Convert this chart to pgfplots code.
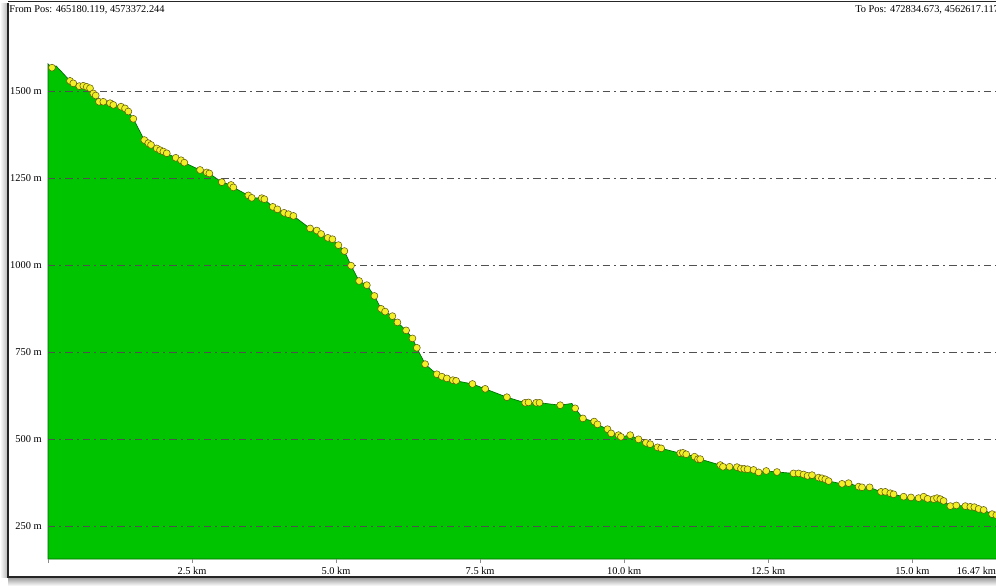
\documentclass[border=0pt]{standalone}
\usepackage{fontspec}
\setmainfont{Liberation Serif}
\usepackage{pgfplots}
\usepackage{pgfplotstable}
\pgfplotsset{compat=1.18}
\definecolor{areagreen}{RGB}{0,196,0}
\definecolor{edgegreen}{RGB}{0,110,0}
\definecolor{dotyellow}{RGB}{242,238,40}
\definecolor{dotedge}{RGB}{95,90,10}
\definecolor{gridgray}{RGB}{80,80,80}

\pgfplotstableread{
km m
0 1578
0.069 1567
0.139 1572
0.226 1557
0.382 1529
0.439 1522
0.543 1514
0.613 1515
0.672 1512
0.729 1508
0.786 1493
0.828 1487
0.885 1469
0.960 1469
1.076 1465
1.134 1460
1.267 1455
1.337 1450
1.394 1441
1.481 1420
1.672 1359
1.741 1350
1.788 1345
1.887 1335
1.944 1330
2.002 1326
2.061 1321
2.217 1308
2.309 1301
2.366 1294
2.639 1273
2.755 1266
2.800 1263
3.016 1238
3.177 1230
3.217 1223
3.477 1200
3.536 1193
3.710 1192
3.755 1189
3.901 1167
3.981 1160
4.097 1150
4.172 1146
4.259 1141
4.549 1105
4.665 1099
4.740 1089
4.856 1078
4.936 1074
5.040 1057
5.144 1040
5.260 998
5.399 954
5.533 942
5.665 911
5.781 874
5.851 866
5.977 853
6.064 835
6.215 812
6.325 789
6.401 762
6.545 715
6.748 686
6.835 679
6.922 674
7.026 669
7.083 667
7.366 658
7.587 644
7.964 620
8.281 604
8.339 605
8.472 604
8.530 604
8.889 597
9.092 602
9.149 588
9.283 559
9.479 550
9.536 542
9.710 528
9.774 516
9.901 511
9.943 506
10.104 511
10.248 499
10.377 489
10.451 485
10.578 476
10.642 473
10.972 459
11.019 460
11.076 456
11.220 449
11.280 442
11.319 442
11.667 425
11.714 420
11.828 420
11.957 419
12.026 415
12.083 414
12.141 413
12.245 411
12.332 404
12.465 408
12.651 405
12.939 401
13.026 401
13.113 398
13.182 394
13.259 396
13.373 389
13.432 387
13.490 384
13.547 379
13.780 371
13.894 373
14.068 363
14.127 361
14.259 361
14.457 348
14.531 348
14.618 344
14.675 341
14.849 334
14.977 332
15.109 330
15.196 334
15.266 328
15.370 327
15.429 330
15.486 327
15.543 322
15.660 307
15.764 309
15.920 307
16.007 305
16.076 304
16.151 299
16.238 296
16.384 284
16.458 281
16.47 280
}\profile

\pgfplotstableread{
km m
0.069 1567
0.382 1529
0.439 1522
0.543 1514
0.613 1515
0.672 1512
0.729 1508
0.786 1493
0.828 1487
0.885 1469
0.960 1469
1.076 1465
1.134 1460
1.267 1455
1.337 1450
1.394 1441
1.481 1420
1.672 1359
1.741 1350
1.788 1345
1.887 1335
1.944 1330
2.002 1326
2.061 1321
2.217 1308
2.309 1301
2.366 1294
2.639 1273
2.755 1266
2.800 1263
3.016 1238
3.177 1230
3.217 1223
3.477 1200
3.536 1193
3.710 1192
3.755 1189
3.901 1167
3.981 1160
4.097 1150
4.172 1146
4.259 1141
4.549 1105
4.665 1099
4.740 1089
4.856 1078
4.936 1074
5.040 1057
5.144 1040
5.260 998
5.399 954
5.533 942
5.665 911
5.781 874
5.851 866
5.977 853
6.064 835
6.215 812
6.325 789
6.401 762
6.545 715
6.748 686
6.835 679
6.922 674
7.026 669
7.083 667
7.366 658
7.587 644
7.964 620
8.281 604
8.339 605
8.472 604
8.530 604
8.889 597
9.149 588
9.283 559
9.479 550
9.536 542
9.710 528
9.774 516
9.901 511
9.943 506
10.104 511
10.248 499
10.377 489
10.451 485
10.578 476
10.642 473
10.972 459
11.019 460
11.076 456
11.220 449
11.280 442
11.319 442
11.667 425
11.714 420
11.828 420
11.957 419
12.026 415
12.083 414
12.141 413
12.245 411
12.332 404
12.465 408
12.651 405
12.939 401
13.026 401
13.113 398
13.182 394
13.259 396
13.373 389
13.432 387
13.490 384
13.547 379
13.780 371
13.894 373
14.068 363
14.127 361
14.259 361
14.457 348
14.531 348
14.618 344
14.675 341
14.849 334
14.977 332
15.109 330
15.196 334
15.266 328
15.370 327
15.429 330
15.486 327
15.543 322
15.660 307
15.764 309
15.920 307
16.007 305
16.076 304
16.151 299
16.238 296
16.384 284
16.458 281
}\dots

\begin{document}
\begin{tikzpicture}[font=\fontsize{7.8}{9}\selectfont]
\path[use as bounding box] (0,0) rectangle (747pt,439.5pt);
% drop shadow
\shade[top color=black!40, bottom color=white] (6pt,6.5pt) rectangle (747pt,0pt);
\shade[left color=white, right color=black!30] (0pt,6.5pt) rectangle (6pt,437pt);
\fill[white] (6pt,6.75pt) rectangle (750pt,437pt);
\begin{axis}[
  at={(36pt,20.25pt)}, anchor=south west,
  scale only axis, width=711.75pt, height=404.25pt,
  xmin=0, xmax=16.47, ymin=155, ymax=1704,
  axis line style={draw=none},
  axis on top,
  clip=false,
  xtick pos=lower, ytick pos=left,
  xtick={0,2.5,5,7.5,10,12.5,15},
  xticklabels={,2.5 km,5.0 km,7.5 km,10.0 km,12.5 km,15.0 km},
  extra x ticks={16.47},
  extra x tick labels={16.47 km},
  extra x tick style={xticklabel style={anchor=north east, xshift=-0.5pt}, grid=none},
  ytick={250,500,750,1000,1250,1500},
  yticklabels={250 m,500 m,750 m,1000 m,1250 m,1500 m},
  ymajorgrids,
  major grid style={gridgray, line width=0.6pt, dash pattern=on 5.5pt off 3pt on 1.5pt off 3pt},
  tick align=outside,
  major tick length=3pt,
  x tick style={black!45, line width=0.6pt},
  y tick style={draw=none},
  xticklabel style={inner sep=0pt, yshift=-3pt},
  yticklabel style={inner sep=0pt, xshift=-1.5pt},
  tick label style={font=\fontsize{7.8}{9}\selectfont},
]
\addplot[fill=areagreen, draw=edgegreen, line width=0.5pt] table[x=km, y=m] {\profile} \closedcycle;
\addplot[only marks, mark=*, mark size=2.6pt, mark options={fill=dotyellow, draw=dotedge, line width=0.4pt}] table[x=km, y=m] {\dots};
\end{axis}
\node[anchor=west, inner sep=0pt] at (6.75pt,432pt) {From Pos: 465180.119, 4573372.244};
\node[anchor=west, inner sep=0pt] at (641.25pt,432pt) {To Pos: 472834.673, 4562617.117};
\draw[black!85, line width=1.5pt] (6pt,437.5pt) -- (6pt,6.75pt) -- (752pt,6.75pt);
\draw[black!85, line width=1.2pt] (6pt,438.5pt) -- (752pt,438.5pt);
\end{tikzpicture}
\end{document}
